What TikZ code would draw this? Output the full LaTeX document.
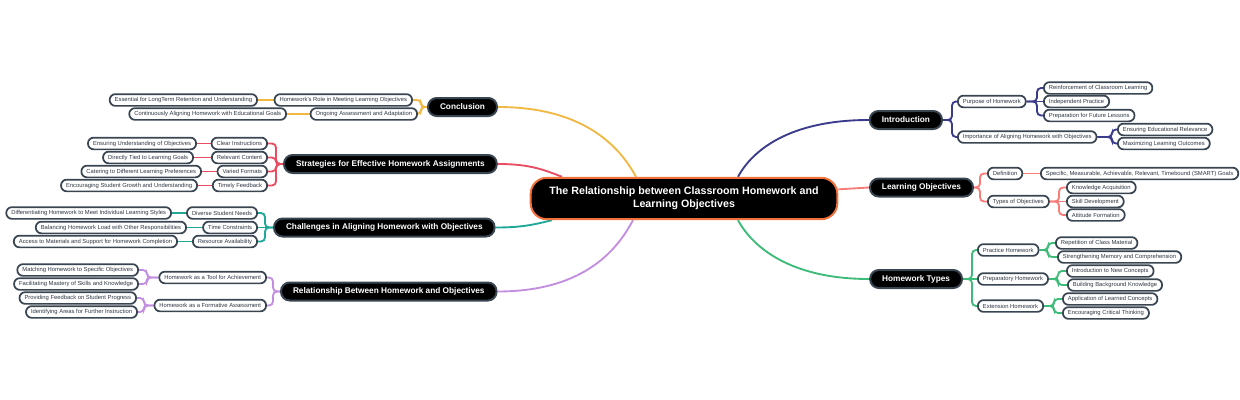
\documentclass[tikz,border=0pt]{standalone}
\usepackage{fontspec}
\setmainfont{Liberation Sans}
\usetikzlibrary{backgrounds,calc}

\definecolor{edge}{HTML}{3A4552}
\definecolor{ink}{HTML}{2E3742}
\definecolor{rim}{HTML}{F2703A}
\definecolor{cConc}{HTML}{F2B845}
\definecolor{cStrat}{HTML}{E84D62}
\definecolor{cChal}{HTML}{1FA898}
\definecolor{cRel}{HTML}{C38EE0}
\definecolor{cIntro}{HTML}{3B3B8C}
\definecolor{cLO}{HTML}{F87C78}
\definecolor{cHT}{HTML}{3DBB78}

\tikzset{
  root/.style={draw=rim, fill=black, text=white, line width=1.5pt, rounded corners=12pt,
    minimum width=230pt, minimum height=31pt, align=center,
    font=\bfseries\fontsize{8}{10}\selectfont},
  topic/.style={draw=edge, fill=black, text=white, line width=1.5pt, rounded corners=6.5pt,
    minimum height=13.5pt, inner xsep=9pt, inner ysep=0pt,
    font=\bfseries\fontsize{6.2}{7.5}\selectfont},
  leaf/.style={draw=edge, fill=white, text=ink, line width=1.3pt, rounded corners=4.3pt,
    minimum height=8.8pt, inner xsep=3.8pt, inner ysep=0pt,
    font=\fontsize{4.38}{5.2}\selectfont},
  link/.style={line width=1.4pt, rounded corners=3pt},
}

\begin{document}
\begin{tikzpicture}[x=0.75pt,y=-0.75pt]
\useasboundingbox (0,0) rectangle (1240,400);

\node[root] (root) at (684,198.5) {The Relationship between Classroom Homework and\\Learning Objectives};

\node[topic,anchor=west] (conc) at (427,107) {Conclusion};
\node[topic,anchor=west] (strat) at (283,164) {Strategies for Effective Homework Assignments};
\node[topic,anchor=west] (chal) at (273,227.5) {Challenges in Aligning Homework with Objectives};
\node[topic,anchor=west] (rel) at (280,291.5) {Relationship Between Homework and Objectives};
\node[topic,anchor=east] (intro) at (943,120) {Introduction};
\node[topic,anchor=east] (lo) at (974,187.5) {Learning Objectives};
\node[topic,anchor=east] (ht) at (963,279) {Homework Types};

\node[leaf,anchor=east] (role) at (413,100) {Homework's Role in Meeting Learning Objectives};
\node[leaf,anchor=east] (ongoing) at (418,114) {Ongoing Assessment and Adaptation};
\node[leaf,anchor=east] (essential) at (258,100) {Essential for LongTerm Retention and Understanding};
\node[leaf,anchor=east] (aligning) at (287,114) {Continuously Aligning Homework with Educational Goals};

\node[leaf,anchor=east] (clear) at (268,143.5) {Clear Instructions};
\node[leaf,anchor=east] (relevant) at (268,157.5) {Relevant Content};
\node[leaf,anchor=east] (varied) at (268,171.5) {Varied Formats};
\node[leaf,anchor=east] (timely) at (268,185.5) {Timely Feedback};
\node[leaf,anchor=east] (ensuring) at (197,143.5) {Ensuring Understanding of Objectives};
\node[leaf,anchor=east] (tied) at (194,157.5) {Directly Tied to Learning Goals};
\node[leaf,anchor=east] (catering) at (202,171.5) {Catering to Different Learning Preferences};
\node[leaf,anchor=east] (growth) at (198,185.5) {Encouraging Student Growth and Understanding};

\node[leaf,anchor=east] (diverse) at (258,213) {Diverse Student Needs};
\node[leaf,anchor=east] (time) at (258,227.5) {Time Constraints};
\node[leaf,anchor=east] (resource) at (258,241.5) {Resource Availability};
\node[leaf,anchor=east] (styles) at (172,213) {Differentiating Homework to Meet Individual Learning Styles};
\node[leaf,anchor=east] (load) at (187,227.5) {Balancing Homework Load with Other Responsibilities};
\node[leaf,anchor=east] (access) at (178,241.5) {Access to Materials and Support for Homework Completion};

\node[leaf,anchor=east] (tool) at (267,277.5) {Homework as a Tool for Achievement};
\node[leaf,anchor=east] (formative) at (267,305.5) {Homework as a Formative Assessment};
\node[leaf,anchor=east] (matching) at (139,270) {Matching Homework to Specific Objectives};
\node[leaf,anchor=east] (mastery) at (139,284) {Facilitating Mastery of Skills and Knowledge};
\node[leaf,anchor=east] (feedback) at (137,298) {Providing Feedback on Student Progress};
\node[leaf,anchor=east] (areas) at (138,312) {Identifying Areas for Further Instruction};

\node[leaf,anchor=west] (purpose) at (957,101.5) {Purpose of Homework};
\node[leaf,anchor=west] (importance) at (957,137) {Importance of Aligning Homework with Objectives};
\node[leaf,anchor=west] (reinforce) at (1043,88) {Reinforcement of Classroom Learning};
\node[leaf,anchor=west] (practise) at (1043,101.5) {Independent Practice};
\node[leaf,anchor=west] (future) at (1043,115.5) {Preparation for Future Lessons};
\node[leaf,anchor=west] (relevance) at (1117,129.5) {Ensuring Educational Relevance};
\node[leaf,anchor=west] (outcomes) at (1117,143.5) {Maximizing Learning Outcomes};

\node[leaf,anchor=west] (definition) at (987,173.5) {Definition};
\node[leaf,anchor=west] (types) at (987,201.5) {Types of Objectives};
\node[leaf,anchor=west] (smart) at (1040,173.5) {Specific, Measurable, Achievable, Relevant, Timebound (SMART) Goals};
\node[leaf,anchor=west] (knowledge) at (1066,187.5) {Knowledge Acquisition};
\node[leaf,anchor=west] (skill) at (1066,201.5) {Skill Development};
\node[leaf,anchor=west] (attitude) at (1066,215) {Attitude Formation};

\node[leaf,anchor=west] (practice) at (977,250) {Practice Homework};
\node[leaf,anchor=west] (preparatory) at (977,279) {Preparatory Homework};
\node[leaf,anchor=west] (extension) at (977,306) {Extension Homework};
\node[leaf,anchor=west] (repetition) at (1055,243) {Repetition of Class Material};
\node[leaf,anchor=west] (memory) at (1057,257) {Strengthening Memory and Comprehension};
\node[leaf,anchor=west] (newconcepts) at (1066,271) {Introduction to New Concepts};
\node[leaf,anchor=west] (background) at (1067,285) {Building Background Knowledge};
\node[leaf,anchor=west] (applied) at (1062,299) {Application of Learned Concepts};
\node[leaf,anchor=west] (critical) at (1062,313) {Encouraging Critical Thinking};

\begin{scope}[on background layer]
\draw[link,cConc] (conc.east) .. controls +(90,0) and +(-14,-26) .. ($(root.north)+(-48,0)$);
\draw[link,cStrat] (strat.east) .. controls +(30,0) and +(-20,-8) .. ($(root.north)+(-122,0)$);
\draw[link,cChal] (chal.east) .. controls +(25,0) and +(-20,5) .. ($(root.south)+(-132,0)$);
\draw[link,cRel] (rel.east) .. controls +(90,0) and +(-14,26) .. ($(root.south)+(-51,0)$);
\draw[link,cIntro] (intro.west) .. controls +(-80,0) and +(14,-26) .. ($(root.north)+(54,0)$);
\draw[link,cLO] (lo.west) -- (root);
\draw[link,cHT] (ht.west) .. controls +(-80,0) and +(14,26) .. ($(root.south)+(54,0)$);

\draw[link,cConc] (conc.west) -- ++(-6,0) |- (role.east);
\draw[link,cConc] (conc.west) -- ++(-6,0) |- (ongoing.east);
\draw[link,cConc] (essential.east) -- (role.west);
\draw[link,cConc] (aligning.east) -- (ongoing.west);

\draw[link,cStrat] (strat.west) -- ++(-7,0) |- (clear.east);
\draw[link,cStrat] (strat.west) -- ++(-7,0) |- (relevant.east);
\draw[link,cStrat] (strat.west) -- ++(-7,0) |- (varied.east);
\draw[link,cStrat] (strat.west) -- ++(-7,0) |- (timely.east);
\draw[link,cStrat] (ensuring.east) -- (clear.west);
\draw[link,cStrat] (tied.east) -- (relevant.west);
\draw[link,cStrat] (catering.east) -- (varied.west);
\draw[link,cStrat] (growth.east) -- (timely.west);

\draw[link,cChal] (chal.west) -- ++(-8,0) |- (diverse.east);
\draw[link,cChal] (chal.west) -- (time.east);
\draw[link,cChal] (chal.west) -- ++(-8,0) |- (resource.east);
\draw[link,cChal] (styles.east) -- (diverse.west);
\draw[link,cChal] (load.east) -- (time.west);
\draw[link,cChal] (access.east) -- (resource.west);

\draw[link,cRel] (rel.west) -- ++(-7,0) |- (tool.east);
\draw[link,cRel] (rel.west) -- ++(-7,0) |- (formative.east);
\draw[link,cRel] (matching.east) -- ++(8,0) |- (tool.west);
\draw[link,cRel] (mastery.east) -- ++(8,0) |- (tool.west);
\draw[link,cRel] (feedback.east) -- ++(7,0) |- (formative.west);
\draw[link,cRel] (areas.east) -- ++(6,0) |- (formative.west);

\draw[link,cIntro] (intro.east) -- ++(9,0) |- (purpose.west);
\draw[link,cIntro] (intro.east) -- ++(9,0) |- (importance.west);
\draw[link,cIntro] (reinforce.west) -- ++(-6,0) |- (purpose.east);
\draw[link,cIntro] (practise.west) -- (purpose.east);
\draw[link,cIntro] (future.west) -- ++(-6,0) |- (purpose.east);
\draw[link,cIntro] (relevance.west) -- ++(-5,0) |- (importance.east);
\draw[link,cIntro] (outcomes.west) -- ++(-5,0) |- (importance.east);

\draw[link,cLO] (lo.east) -- ++(6,0) |- (definition.west);
\draw[link,cLO] (lo.east) -- ++(6,0) |- (types.west);
\draw[link,cLO] (smart.west) -- (definition.east);
\draw[link,cLO] (knowledge.west) -- ++(-7,0) |- (types.east);
\draw[link,cLO] (skill.west) -- (types.east);
\draw[link,cLO] (attitude.west) -- ++(-7,0) |- (types.east);

\draw[link,cHT] (ht.east) -- ++(9,0) |- (practice.west);
\draw[link,cHT] (ht.east) -- (preparatory.west);
\draw[link,cHT] (ht.east) -- ++(9,0) |- (extension.west);
\draw[link,cHT] (repetition.west) -- ++(-7,0) |- (practice.east);
\draw[link,cHT] (memory.west) -- ++(-9,0) |- (practice.east);
\draw[link,cHT] (newconcepts.west) -- ++(-8,0) |- (preparatory.east);
\draw[link,cHT] (background.west) -- ++(-9,0) |- (preparatory.east);
\draw[link,cHT] (applied.west) -- ++(-8,0) |- (extension.east);
\draw[link,cHT] (critical.west) -- ++(-8,0) |- (extension.east);
\end{scope}
\end{tikzpicture}
\end{document}
